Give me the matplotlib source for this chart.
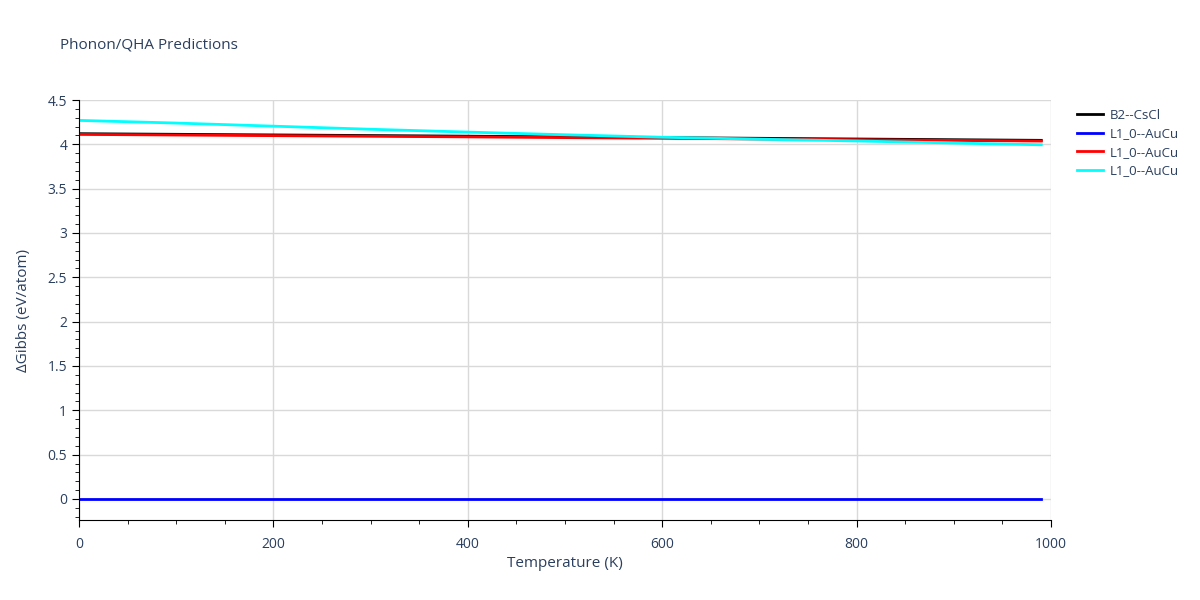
import numpy as np
import matplotlib
matplotlib.use('Agg')
import matplotlib.pyplot as plt
from matplotlib.ticker import MultipleLocator
from matplotlib.lines import Line2D

plt.rcParams['font.family'] = ['Open Sans', 'DejaVu Sans']

# data
temps = [0, 100, 200, 300, 400, 500, 600, 700, 800, 900, 990]
b2_cscl = [4.120, 4.113, 4.106, 4.099, 4.092, 4.084, 4.076, 4.068, 4.060, 4.052, 4.045]
l10_blue = [0, 0, 0, 0, 0, 0, 0, 0, 0, 0, 0]
l10_red = [4.112, 4.105, 4.098, 4.091, 4.084, 4.076, 4.068, 4.060, 4.052, 4.044, 4.037]
l10_cyan = [4.270, 4.240, 4.205, 4.170, 4.138, 4.108, 4.080, 4.058, 4.038, 4.015, 3.995]

series_names = ['B2--CsCl', 'L1_0--AuCu', 'L1_0--AuCu', 'L1_0--AuCu']
series_vals = [b2_cscl, l10_blue, l10_red, l10_cyan]
colors = ['black', 'blue', 'red', 'cyan']

txt = '#2a3f5f'

fig = plt.figure(figsize=(12, 6), dpi=100)
ax = fig.add_axes([79/1200, 80/600, (1051-79)/1200, 420/600])

for vals, c in zip(series_vals, colors):
    ax.plot(temps, vals, color=c, lw=2)

ax.set_xlim(0, 1000)
ax.set_ylim(-0.237, 4.5)
ax.xaxis.set_major_locator(MultipleLocator(200))
ax.xaxis.set_minor_locator(MultipleLocator(50))
ax.yaxis.set_major_locator(MultipleLocator(0.5))
ax.yaxis.set_minor_locator(MultipleLocator(0.1))
ax.yaxis.set_major_formatter(matplotlib.ticker.FuncFormatter(lambda v, p: ('%g' % v)))

ax.grid(True, which='major', color='#d9d9d9', lw=1)
ax.set_axisbelow(True)
for s in ['top', 'right']:
    ax.spines[s].set_visible(False)
ax.spines['left'].set_color('black')
ax.spines['bottom'].set_color('black')
ax.tick_params(which='major', direction='out', length=5, colors='black', labelcolor=txt, labelsize=10)
ax.tick_params(which='minor', direction='out', length=3, colors='black')
ax.tick_params(axis='x', pad=7)

ax.set_xlabel('Temperature (K)', color=txt, fontsize=11, labelpad=3)
ax.set_ylabel('ΔGibbs (eV/atom)', color=txt, fontsize=11, labelpad=12)
fig.text(60/1200, 1 - 45/600, 'Phonon/QHA Predictions', color=txt, fontsize=11, va='center')

handles = [Line2D([], [], color=c, lw=2) for c in colors]
leg = fig.legend(handles, series_names, loc='upper left', bbox_to_anchor=(1070/1200, 1 - 102/600),
                 frameon=False, fontsize=9.5, labelcolor=txt, handlelength=2.0,
                 handletextpad=0.5, labelspacing=0.42, borderpad=0)

fig.savefig('out.png', dpi=100)
